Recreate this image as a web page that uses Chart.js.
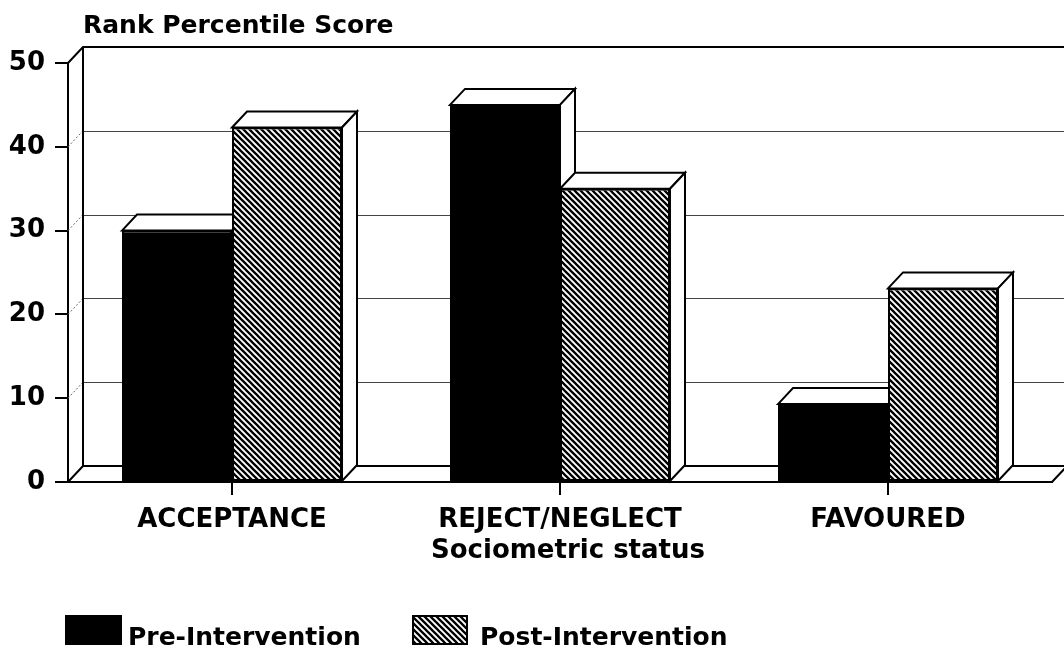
<!DOCTYPE html>
<html>
<head>
<meta charset="utf-8">
<script src="https://cdn.jsdelivr.net/npm/chart.js@4/dist/chart.umd.min.js"></script>
<style>
  html, body { margin: 0; padding: 0; background: #fff; }
  canvas { display: block; }
</style>
</head>
<body>
<canvas id="c" width="1064" height="652"></canvas>
<script>
// ---- data ----
const categories = ['ACCEPTANCE', 'REJECT/NEGLECT', 'FAVOURED'];
const preValues = [30, 45, 9.3];
const postValues = [42.3, 35, 23.1];
const seriesLabels = ['Pre-Intervention', 'Post-Intervention'];
const yTicks = [0, 10, 20, 30, 40, 50];
const yAxisTitle = 'Rank Percentile Score';
const xAxisTitle = 'Sociometric status';

// ---- style ----
const FONT = 'DejaVu Sans';
const DX = 15, DY = 16;

function makeHatch() {
  const p = 6;
  const c = document.createElement('canvas');
  c.width = p; c.height = p;
  const g = c.getContext('2d');
  g.fillStyle = '#fff'; g.fillRect(0, 0, p, p);
  g.strokeStyle = '#000'; g.lineWidth = 2.3;
  g.beginPath();
  g.moveTo(-1, -1); g.lineTo(p + 1, p + 1);
  g.moveTo(-1, p - 1); g.lineTo(1, p + 1);
  g.moveTo(p - 1, -1); g.lineTo(p + 1, 1);
  g.stroke();
  return document.getElementById('c').getContext('2d').createPattern(c, 'repeat');
}
const hatch = makeHatch();

const depthPlugin = {
  id: 'depth3d',
  beforeDatasetsDraw(chart) {
    const { ctx, chartArea: a, scales: { x, y } } = chart;
    const W = chart.width;
    const y0 = y.getPixelForValue(yTicks[0]);
    const yTop = y.getPixelForValue(yTicks[yTicks.length - 1]);
    ctx.save();
    // back wall gridlines
    ctx.strokeStyle = '#444';
    ctx.lineWidth = 1;
    yTicks.slice(1, -1).forEach(v => {
      const py = Math.round(y.getPixelForValue(v) - DY) + 0.5;
      ctx.beginPath(); ctx.moveTo(a.left + DX, py); ctx.lineTo(W, py); ctx.stroke();
    });
    // dotted connectors on the left side wall
    ctx.setLineDash([2, 2]);
    ctx.strokeStyle = '#666';
    yTicks.slice(1, -1).forEach(v => {
      const py = y.getPixelForValue(v);
      ctx.beginPath(); ctx.moveTo(a.left, py); ctx.lineTo(a.left + DX, py - DY); ctx.stroke();
    });
    ctx.setLineDash([]);
    // frame
    ctx.strokeStyle = '#000';
    ctx.lineWidth = 2;
    ctx.beginPath();
    ctx.moveTo(a.left, yTop); ctx.lineTo(a.left + DX, yTop - DY); ctx.lineTo(W, yTop - DY);
    ctx.moveTo(a.left + DX, yTop - DY); ctx.lineTo(a.left + DX, y0 - DY); ctx.lineTo(W, y0 - DY);
    ctx.moveTo(a.left, y0); ctx.lineTo(a.left + DX, y0 - DY);
    ctx.moveTo(a.right, y0); ctx.lineTo(a.right + DX, y0 - DY);
    ctx.stroke();
    // 3D faces of bars
    ctx.fillStyle = '#fff';
    ctx.lineJoin = 'miter';
    for (let j = 0; j < categories.length; j++) {
      for (let i = 0; i < chart.data.datasets.length; i++) {
        const bar = chart.getDatasetMeta(i).data[j];
        const l = bar.x - bar.width / 2, r = bar.x + bar.width / 2;
        const t = bar.y, b = bar.base;
        // top face
        ctx.beginPath();
        ctx.moveTo(l, t); ctx.lineTo(l + DX, t - DY); ctx.lineTo(r + DX, t - DY); ctx.lineTo(r, t);
        ctx.closePath(); ctx.fill(); ctx.stroke();
        // side face
        ctx.beginPath();
        ctx.moveTo(r, t); ctx.lineTo(r + DX, t - DY); ctx.lineTo(r + DX, b - DY); ctx.lineTo(r, b);
        ctx.closePath(); ctx.fill(); ctx.stroke();
      }
    }
    ctx.restore();
  },
  afterDraw(chart) {
    const { ctx, chartArea: a } = chart;
    ctx.save();
    ctx.fillStyle = '#000';
    ctx.textBaseline = 'alphabetic';
    // y axis title
    ctx.font = `bold 25px "${FONT}"`;
    ctx.textAlign = 'left';
    ctx.fillText(yAxisTitle, 83, 33);
    // x axis title
    ctx.font = `bold 26px "${FONT}"`;
    ctx.textAlign = 'center';
    ctx.fillText(xAxisTitle, (a.left + a.right) / 2 + 8, 558);
    // legend
    const ds = chart.data.datasets;
    ctx.font = `bold 25px "${FONT}"`;
    ctx.textAlign = 'left';
    ctx.fillStyle = ds[0].backgroundColor;
    ctx.fillRect(65, 615, 57, 30);
    ctx.fillStyle = '#000';
    ctx.fillText(ds[0].label, 128, 645);
    ctx.fillStyle = ds[1].backgroundColor;
    ctx.fillRect(412, 615, 56, 30);
    ctx.strokeStyle = '#000'; ctx.lineWidth = 2;
    ctx.strokeRect(413, 616, 54, 28);
    ctx.fillStyle = '#000';
    ctx.fillText(ds[1].label, 480, 645);
    ctx.restore();
  }
};

new Chart(document.getElementById('c'), {
  type: 'bar',
  data: {
    labels: categories,
    datasets: [
      { label: seriesLabels[0], data: preValues, backgroundColor: '#000', borderColor: '#000', borderWidth: 2, borderSkipped: false },
      { label: seriesLabels[1], data: postValues, backgroundColor: hatch, borderColor: '#000', borderWidth: 2, borderSkipped: false }
    ]
  },
  options: {
    responsive: false,
    animation: false,
    events: [],
    layout: { padding: { top: 63, right: 12, left: 0, bottom: 0 } },
    datasets: { bar: { barPercentage: 1, categoryPercentage: 220 / 328 } },
    plugins: { legend: { display: false }, tooltip: { enabled: false }, title: { display: false } },
    scales: {
      x: {
        grid: { display: true, drawOnChartArea: false, offset: false, tickLength: 13, color: '#000', lineWidth: 2 },
        border: { display: true, color: '#000', width: 2 },
        ticks: { color: '#000', font: { family: FONT, size: 26, weight: 'bold' }, padding: 10, maxRotation: 0, autoSkip: false },
        afterFit: s => { s.height = 170; }
      },
      y: {
        min: yTicks[0], max: yTicks[yTicks.length - 1],
        afterBuildTicks: s => { s.ticks = yTicks.map(v => ({ value: v })); },
        grid: { display: true, drawOnChartArea: false, tickLength: 13, color: '#000', lineWidth: 2 },
        border: { display: true, color: '#000', width: 2 },
        ticks: { color: '#000', font: { family: FONT, size: 26, weight: 'bold' }, padding: 10 },
        afterFit: s => { s.width = 68; }
      }
    }
  },
  plugins: [depthPlugin]
});
</script>
</body>
</html>
